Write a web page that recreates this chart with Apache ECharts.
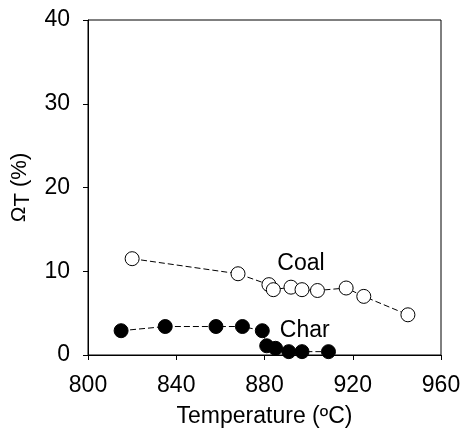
<!DOCTYPE html>
<html>
<head>
<meta charset="utf-8">
<script src="https://cdn.jsdelivr.net/npm/echarts@6/dist/echarts.min.js"></script>
<style>
  html, body { margin: 0; padding: 0; background: #fff; }
  #chart { width: 464px; height: 436px; }
</style>
</head>
<body>
<div id="chart"></div>
<script>
// coal: open circles, char: filled circles
const coalTemp = [820, 868, 882, 884, 892, 897, 904, 917, 925, 945]
const coalOmega = [11.5, 9.7, 8.4, 7.8, 8.1, 7.8, 7.7, 8.0, 7.0, 4.8]
const charTemp = [815, 835, 858, 870, 879, 881, 885, 891, 897, 909]
const charOmega = [2.9, 3.4, 3.4, 3.4, 2.9, 1.1, 0.8, 0.4, 0.4, 0.4]

const font = 'Liberation Sans, Arial, sans-serif'

function toPoints(xs, ys, labelIdx, label) {
  return xs.map((x, i) => {
    const p = { value: [x, ys[i]] }
    if (i === labelIdx) p.label = label
    return p
  })
}

const chart = echarts.init(document.getElementById('chart'))
const options = {
  animation: false,
  grid: {
    left: 88,
    top: 20,
    right: 23,
    bottom: 81,
    show: true,
    borderColor: '#000',
    borderWidth: 1
  },
  xAxis: {
    type: 'value',
    min: 800,
    max: 960,
    interval: 40,
    name: 'Temperature (ºC)',
    nameLocation: 'middle',
    nameGap: 50,
    nameTextStyle: { fontFamily: font, fontSize: 23, color: '#000' },
    axisLine: { show: true, lineStyle: { color: '#000', width: 1 } },
    axisTick: { show: true, inside: false, length: 5, lineStyle: { color: '#000' } },
    axisLabel: { fontFamily: font, fontSize: 23, color: '#000', margin: 19 },
    splitLine: { show: false }
  },
  yAxis: {
    type: 'value',
    min: 0,
    max: 40,
    interval: 10,
    // Ω with slightly lowered T
    name: '{o|Ω}{t|T}{p| (%)}',
    nameLocation: 'middle',
    nameGap: 42,
    nameTextStyle: {
      fontFamily: font,
      fontSize: 22,
      color: '#000',
      rich: {
        o: { fontFamily: font, fontSize: 21, color: '#000' },
        t: { fontFamily: font, fontSize: 22, color: '#000', padding: [6, 0, 0, 0] },
        p: { fontFamily: font, fontSize: 22, color: '#000' }
      }
    },
    axisLine: { show: true, lineStyle: { color: '#000', width: 1 } },
    axisTick: { show: true, inside: false, length: 5, lineStyle: { color: '#000' } },
    axisLabel: { fontFamily: font, fontSize: 23, color: '#000', margin: 18 },
    splitLine: { show: false }
  },
  series: [
    {
      name: 'Coal',
      type: 'line',
      data: toPoints(coalTemp, coalOmega, 4, {
        show: true,
        formatter: 'Coal',
        position: 'top',
        distance: 5,
        offset: [10, 0],
        fontFamily: font,
        fontSize: 23,
        color: '#000'
      }),
      symbol: 'circle',
      symbolSize: 14,
      itemStyle: { color: '#fff', borderColor: '#000', borderWidth: 1 },
      lineStyle: { color: '#000', width: 1, type: [6, 3] },
      z: 3
    },
    {
      name: 'Char',
      type: 'line',
      data: toPoints(charTemp, charOmega, 4, {
        show: true,
        formatter: 'Char',
        position: 'right',
        distance: 10,
        fontFamily: font,
        fontSize: 23,
        color: '#000'
      }),
      symbol: 'circle',
      symbolSize: 14,
      itemStyle: { color: '#000', borderColor: '#000', borderWidth: 1 },
      lineStyle: { color: '#000', width: 1, type: [6, 3] },
      z: 3
    }
  ]
}
chart.setOption(options)
</script>
</body>
</html>
